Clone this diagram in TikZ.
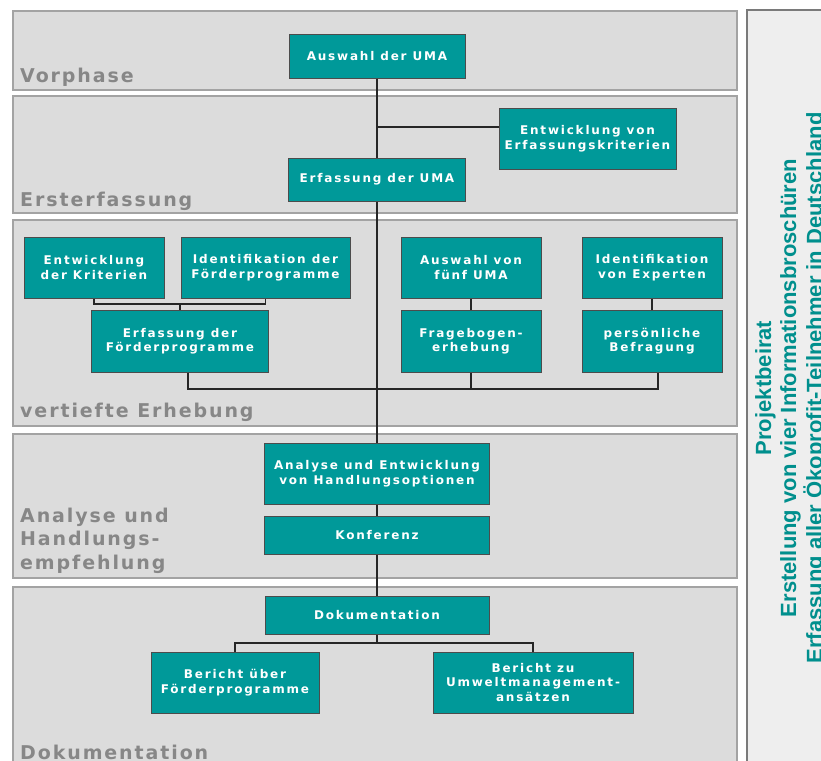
\documentclass[tikz,border=0pt]{standalone}
\usepackage{fontspec}
\usetikzlibrary{positioning,calc}
\newfontfamily\boxfont{DejaVu Sans}[LetterSpace=15]
\newfontfamily\phasefont{DejaVu Sans}[LetterSpace=10]
\newfontfamily\sidefont{Liberation Sans}
\definecolor{boxteal}{HTML}{009999}
\definecolor{sideteal}{HTML}{008F8D}
\definecolor{panelfill}{HTML}{DCDCDC}
\definecolor{panelline}{HTML}{A3A3A3}
\definecolor{sidefill}{HTML}{EEEEEE}
\definecolor{sideline}{HTML}{7A7A7A}
\definecolor{phasegray}{HTML}{878787}
\tikzset{
block/.style = {draw=black!70, line width=1pt, fill=boxteal, rectangle, text=white, align=center, inner sep=0pt, font={\boxfont\bfseries\fontsize{12}{14.5}\selectfont}},
panel/.style = {draw=panelline, fill=panelfill, line width=1.5pt},
sidepanel/.style = {draw=sideline, fill=sidefill, line width=2pt},
phase/.style = {inner sep=0pt, text=phasegray, align=left, font={\phasefont\bfseries\fontsize{19}{23.5}\selectfont}},
sidetext/.style = {anchor=base, rotate=90, inner sep=0pt, text=sideteal, font={\sidefont\bfseries\fontsize{22}{26}\selectfont}},
tmp/.style = {coordinate},
line/.style = {draw=black!85, line width=1.1pt}
}
\begin{document}
\begin{tikzpicture}[x=1pt, y=-1pt]
  \useasboundingbox (0,0) rectangle (821,760);

  \draw [panel] (13,11)  rectangle (737,90);
  \draw [panel] (13,96)  rectangle (737,213);
  \draw [panel] (13,220) rectangle (737,426);
  \draw [panel] (13,434) rectangle (737,578);
  \draw [panel] (13,587) rectangle (737,790);
  \draw [sidepanel] (747,10) rectangle (840,790);

  \node [phase, anchor=base west] (vorphase)  at (20,82)   {Vorphase};
  \node [phase, anchor=base west] (erster)    at (20,206)  {Ersterfassung};
  \node [phase, anchor=base west] (vertieft)  at (20,417)  {vertiefte Erhebung};
  \node [phase, anchor=north west] (analyseph) at (20,507.5) {Analyse und\\Handlungs-\\empfehlung};
  \node [phase, anchor=base west] (dokuph)    at (20,759)  {Dokumentation};

  \node [block, minimum width=176pt, minimum height=43pt] (auswahl)   at (377,56.5)   {Auswahl der UMA};
  \node [block, minimum width=177pt, minimum height=61pt] (entwkrit)  at (587.5,138.5) {Entwicklung von\\Erfassungskriterien};
  \node [block, minimum width=177pt, minimum height=43pt] (erfuma)    at (377,179.5)  {Erfassung der UMA};
  \node [block, minimum width=140pt, minimum height=61pt] (entkrit)   at (94,267.5)   {Entwicklung\\der Kriterien};
  \node [block, minimum width=169pt, minimum height=61pt] (identfp)   at (265.5,267.5) {Identifikation der\\Förderprogramme};
  \node [block, minimum width=177pt, minimum height=62pt] (erffp)     at (180,341)    {Erfassung der\\Förderprogramme};
  \node [block, minimum width=140pt, minimum height=61pt] (auswfuenf) at (471,267.5)  {Auswahl von\\fünf UMA};
  \node [block, minimum width=140pt, minimum height=62pt] (frageb)    at (471,341)    {Fragebogen-\\erhebung};
  \node [block, minimum width=140pt, minimum height=61pt] (identexp)  at (652,267.5)  {Identifikation\\von Experten};
  \node [block, minimum width=140pt, minimum height=62pt] (befrag)    at (652,341)    {persönliche\\Befragung};
  \node [block, minimum width=225pt, minimum height=61pt] (analyse)   at (377,473.5)  {Analyse und Entwicklung\\von Handlungsoptionen};
  \node [block, minimum width=225pt, minimum height=38pt] (konferenz) at (377,535)    {Konferenz};
  \node [block, minimum width=224pt, minimum height=38pt] (doku)      at (377,615)    {Dokumentation};
  \node [block, minimum width=168pt, minimum height=61pt] (berfp)     at (235,682.5)  {Bericht über\\Förderprogramme};
  \node [block, minimum width=200pt, minimum height=61pt] (berum)     at (533,682.5)  {Bericht zu\\Umweltmanagement-\\ansätzen};

  \node [sidetext] (beirat)   at (771,388) {Projektbeirat};
  \node [sidetext] (brosch)   at (796,388) {Erstellung von vier Informationsbroschüren};
  \node [sidetext] (oekoprof) at (822,388) {Erfassung aller Ökoprofit-Teilnehmer in Deutschland};

  \node [tmp] (j1) at (377,127) {};
  \node [tmp] (j2) at (180,304) {};
  \node [tmp] (j3) at (188,389) {};
  \node [tmp] (j4) at (377,643) {};

  \draw [line] (auswahl) -- (erfuma);
  \draw [line] (j1) -- (j1 -| entwkrit.west);
  \draw [line] (erfuma) -- (analyse);
  \draw [line] (analyse) -- (konferenz);
  \draw [line] (konferenz) -- (doku);
  \draw [line] (entkrit.south) |- (j2) -| (identfp.south);
  \draw [line] (j2) -- (erffp);
  \draw [line] (auswfuenf) -- (frageb);
  \draw [line] (identexp) -- (befrag);
  \draw [line] ([xshift=8pt]erffp.south) -- (j3) -| ([xshift=6pt]befrag.south);
  \draw [line] (frageb.south) -- (frageb.south |- j3);
  \draw [line] (doku) -- (j4);
  \draw [line] (berfp.north) |- (j4) -| (berum.north);
\end{tikzpicture}
\end{document}
